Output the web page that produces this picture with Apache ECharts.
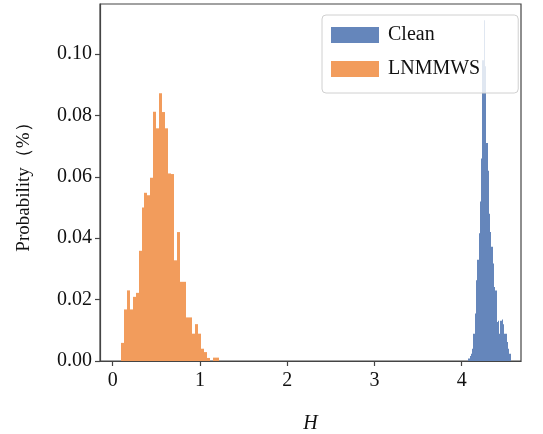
<!DOCTYPE html>
<html>
<head>
<meta charset="utf-8">
<script src="https://cdn.jsdelivr.net/npm/echarts@6/dist/echarts.min.js"></script>
<style>
html,body{margin:0;padding:0;background:#fff;}
#c{width:543px;height:434px;}
</style>
</head>
<body>
<div id="c"></div>
<script>
// ---- data ----
const seriesNames = ['Clean', 'LNMMWS'];
// Clean histogram: first bin edge, bin width, probabilities per bin
const cleanStart = 4.076;
const cleanBinWidth = 0.0147;
const cleanHeights = [0.0008, 0.0016, 0.0024, 0.0040, 0.0089, 0.0155, 0.0263, 0.0330, 0.0416, 0.0520,
  0.0660, 0.0980, 0.1110, 0.0960, 0.0710, 0.0620, 0.0480, 0.0420, 0.0372, 0.0318,
  0.0241, 0.0230, 0.0127, 0.0131, 0.0089, 0.0131, 0.0135, 0.0120, 0.0089, 0.0089,
  0.0062, 0.0040, 0.0024];
// LNMMWS histogram
const lnStart = 0.092;
const lnBinWidth = 0.034;
const lnHeights = [0.0059, 0.0168, 0.0230, 0.0168, 0.0209, 0.0222, 0.0359, 0.0500, 0.0548, 0.0540,
  0.0597, 0.0812, 0.0758, 0.0872, 0.0811, 0.0758, 0.0611, 0.0609, 0.0328, 0.0420,
  0.0258, 0.0258, 0.0142, 0.0142, 0.0089, 0.0120, 0.0089, 0.0040, 0.0029, 0.0010,
  0.0000, 0.0011, 0.0011];
const xTicks = [0, 1, 2, 3, 4];
const yTicks = [0.00, 0.02, 0.04, 0.06, 0.08, 0.10];
const xLabel = 'H';
const yLabel = 'Probability（%）';

// ---- build histogram rows ----
function bins(start, width, heights) {
  return heights.map((h, i) => [start + i * width, start + (i + 1) * width, h]);
}
function renderBar(params, api) {
  const p0 = api.coord([api.value(0), api.value(2)]);
  const p1 = api.coord([api.value(1), 0]);
  const xl = Math.round(p0[0]), xr = Math.round(p1[0]);
  const c = api.visual('color');
  return {
    type: 'rect',
    shape: { x: xl, y: p0[1], width: Math.max(xr - xl, 1), height: p1[1] - p0[1] },
    style: { fill: c }
  };
}

const FONT = "'Liberation Serif', 'Times New Roman', serif";
const chart = echarts.init(document.getElementById('c'), null, { renderer: 'canvas' });
chart.setOption({
  animation: false,
  backgroundColor: '#fff',
  grid: { left: 100, right: 22, top: 4, bottom: 73, show: true, borderColor: '#444', borderWidth: 1.2,
    backgroundColor: 'transparent', outerBoundsMode: 'none', containLabel: false },
  legend: {
    data: seriesNames,
    orient: 'vertical',
    left: 322, top: 15,
    itemWidth: 48, itemHeight: 16, itemGap: 14,
    padding: [10, 38, 14, 9],
    backgroundColor: 'rgba(255,255,255,0.8)',
    borderColor: '#d0d0d0', borderWidth: 1, borderRadius: 4,
    icon: 'rect',
    textStyle: { fontFamily: FONT, fontSize: 20, color: '#111', padding: [0, 0, 0, 4], lineHeight: 20 }
  },
  xAxis: {
    type: 'value', min: -0.146, max: 4.68,
    name: xLabel, nameLocation: 'middle', nameGap: 53,
    nameTextStyle: { fontFamily: FONT, fontSize: 20, fontStyle: 'italic', color: '#111' },
    axisLine: { show: true, onZero: false, lineStyle: { color: '#444', width: 1.2 } },
    axisTick: { show: true, length: 5, customValues: xTicks, lineStyle: { color: '#444', width: 1.2 } },
    axisLabel: { customValues: xTicks, fontFamily: FONT, fontSize: 20, color: '#111', margin: 10 },
    splitLine: { show: false }
  },
  yAxis: {
    type: 'value', min: 0, max: 0.1163,
    name: yLabel, nameLocation: 'middle', nameGap: 66,
    nameTextStyle: { fontFamily: FONT, fontSize: 19, color: '#111' },
    axisLine: { show: true, onZero: false, lineStyle: { color: '#444', width: 1.2 } },
    axisTick: { show: true, length: 5, customValues: yTicks, lineStyle: { color: '#444', width: 1.2 } },
    axisLabel: { customValues: yTicks, fontFamily: FONT, fontSize: 20, color: '#111', margin: 8,
      formatter: v => v.toFixed(2) },
    splitLine: { show: false }
  },
  series: [
    { name: seriesNames[0], type: 'custom', renderItem: renderBar, itemStyle: { color: '#6586BB' },
      encode: { x: [0, 1], y: 2 }, data: bins(cleanStart, cleanBinWidth, cleanHeights) },
    { name: seriesNames[1], type: 'custom', renderItem: renderBar, itemStyle: { color: '#F29C5C' },
      encode: { x: [0, 1], y: 2 }, data: bins(lnStart, lnBinWidth, lnHeights) }
  ]
});
</script>
</body>
</html>
